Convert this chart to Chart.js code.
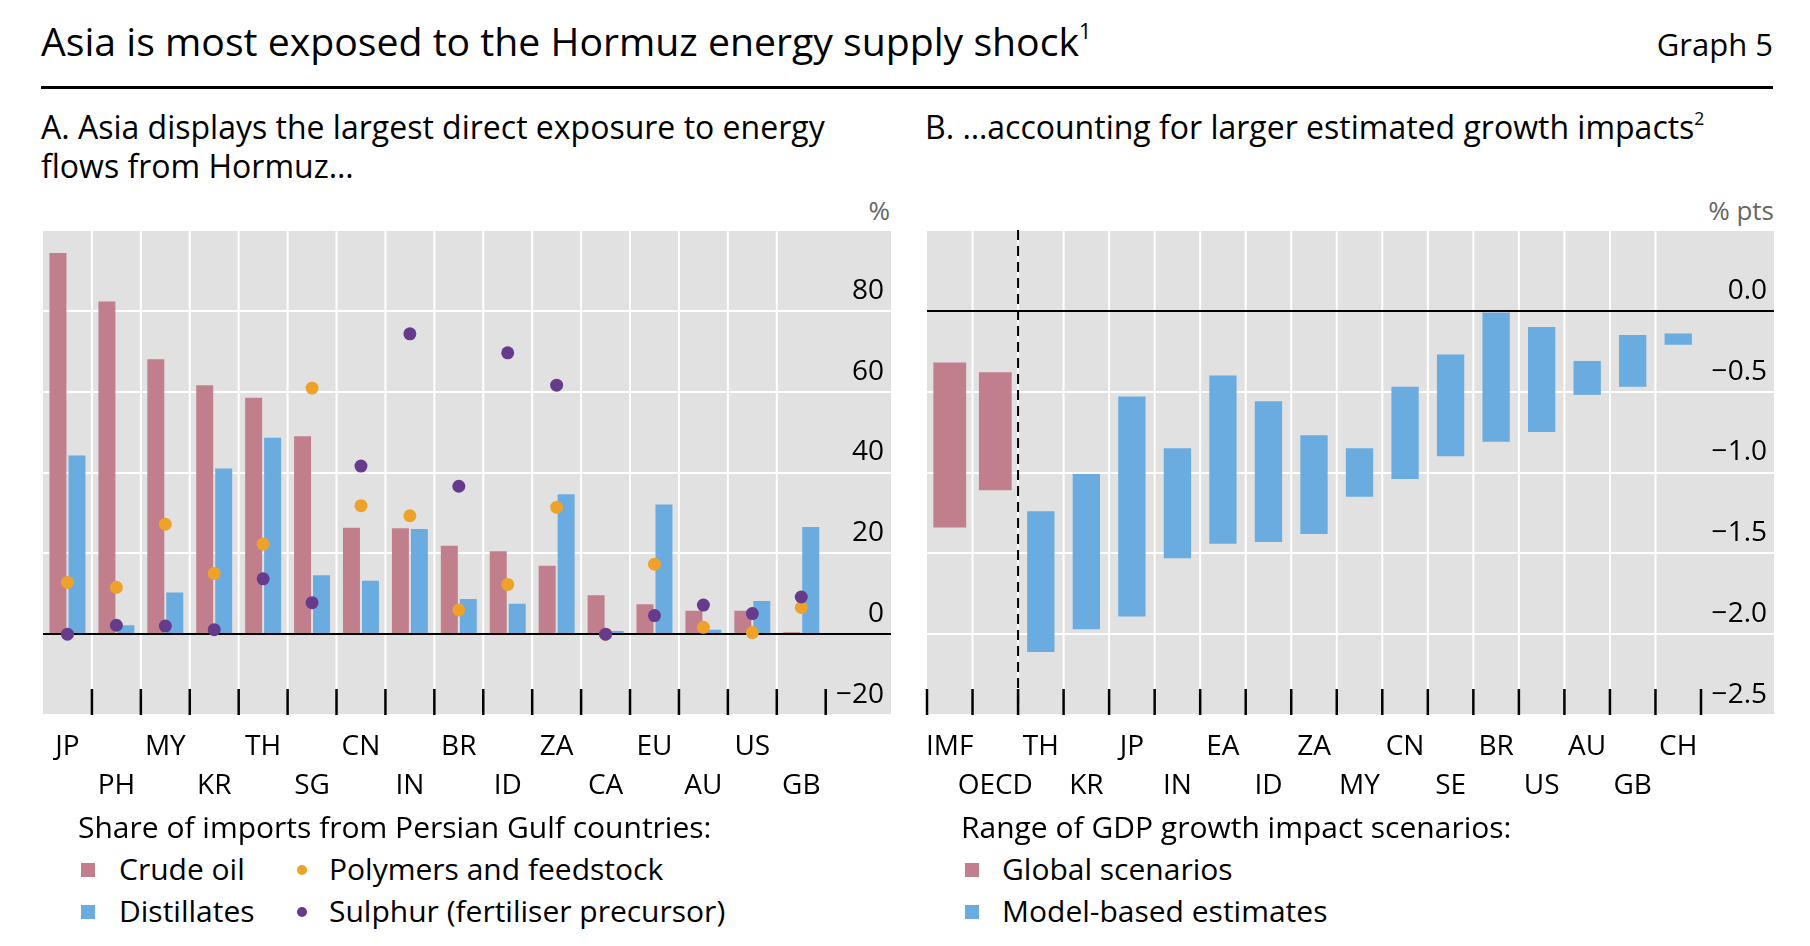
<!doctype html>
<html lang="en">
<head>
<meta charset="utf-8">
<title>Graph 5</title>
<script src="https://cdn.jsdelivr.net/npm/chart.js@4.4.1/dist/chart.umd.min.js"></script>
<style>
  body { margin: 0; background: #fff; color: #000; font-family: "Open Sans", "Noto Sans", sans-serif; }
  #page { position: relative; width: 1810px; height: 946px; overflow: hidden; }
  .txt { position: absolute; white-space: nowrap; }
  sup { font-size: 0.55em; vertical-align: 0.8em; line-height: 0; }
  #title { left: 41px; top: 21px; font-size: 39.2px; line-height: 39px; }
  #graphno { right: 37px; top: 29px; font-size: 31px; line-height: 31px; }
  #rule { position: absolute; left: 41px; top: 86px; width: 1732px; height: 3px; background: #000; }
  .ptitle { top: 107px; font-size: 32px; line-height: 39px; }
  .unit { top: 197px; font-size: 26px; line-height: 26px; color: #666; }
  canvas { position: absolute; top: 220px; }
  .leg { position: absolute; font-size: 30px; line-height: 42px; }
  .leg div { position: absolute; white-space: nowrap; }
</style>
</head>
<body>
<div id="page">
  <div class="txt" id="title">Asia is most exposed to the Hormuz energy supply shock<sup>1</sup></div>
  <div class="txt" id="graphno">Graph 5</div>
  <div id="rule"></div>

  <div class="txt ptitle" style="left:41px">A. Asia displays the largest direct exposure to energy<br>flows from Hormuz…</div>
  <div class="txt ptitle" style="left:925px">B. …accounting for larger estimated growth impacts<sup>2</sup></div>
  <div class="txt unit" style="right:920px">%</div>
  <div class="txt unit" style="right:36px">% pts</div>

  <canvas id="chartA" width="910" height="600" style="left:0"></canvas>
  <canvas id="chartB" width="900" height="600" style="left:910px"></canvas>

  <div class="leg" id="legA"></div>
  <div class="leg" id="legB"></div>
</div>

<script>
// Panel A: share of imports from Persian Gulf countries (%)
var countriesA = ['JP', 'PH', 'MY', 'KR', 'TH', 'SG', 'CN', 'IN', 'BR', 'ID', 'ZA', 'CA', 'EU', 'AU', 'US', 'GB'];
var crudeOil    = [94.3, 82.3, 68.0, 61.6, 58.5, 49.0, 26.3, 26.2, 21.9, 20.5, 16.9, 9.6, 7.4, 5.8, 5.8, 0.5];
var distillates = [44.2, 2.2, 10.3, 41.0, 48.6, 14.6, 13.2, 26.0, 8.7, 7.5, 34.6, 0.8, 32.1, 1.1, 8.2, 26.5];
var polymers    = [12.8, 11.6, 27.2, 15.0, 22.3, 60.9, 31.8, 29.3, 6.0, 12.3, 31.4, 0.0, 17.3, 1.7, 0.4, 6.6];
var sulphur     = [0.0, 2.2, 2.0, 1.1, 13.7, 7.8, 41.6, 74.3, 36.6, 69.6, 61.6, 0.0, 4.6, 7.2, 5.1, 9.2];

// Panel B: range of GDP growth impact (% pts)
var scenarioNames = ['IMF', 'OECD'];
var scenarioLow   = [-1.34, -1.11];
var scenarioHigh  = [-0.32, -0.38];
var modelNames = ['TH', 'KR', 'JP', 'IN', 'EA', 'ID', 'ZA', 'MY', 'CN', 'SE', 'BR', 'US', 'AU', 'GB', 'CH'];
var modelLow   = [-2.11, -1.97, -1.89, -1.53, -1.44, -1.43, -1.38, -1.15, -1.04, -0.90, -0.81, -0.75, -0.52, -0.47, -0.21];
var modelHigh  = [-1.24, -1.01, -0.53, -0.85, -0.40, -0.56, -0.77, -0.85, -0.47, -0.27, -0.01, -0.10, -0.31, -0.15, -0.14];

var PINK = '#c17f8e', BLUE = '#6aace0', ORANGE = '#eea22a', PURPLE = '#673b8c', GREY = '#e1e1e1';

Chart.defaults.font.family = '"Open Sans", "Noto Sans", sans-serif';
Chart.defaults.color = '#000';

function minus(s) { return s.replace('-', '\u2212'); }

// grey panel, white grid, zero line, category ticks, dashed divider
var frame = {
    id: 'frame',
    beforeDraw: function(chart, args, o) {
        var ctx = chart.ctx, a = chart.chartArea, x = chart.scales.x, y = chart.scales.y;
        var right = y.right + o.extra;
        ctx.save();
        ctx.fillStyle = GREY;
        ctx.fillRect(a.left, a.top, right - a.left, a.bottom - a.top);
        ctx.strokeStyle = '#fff';
        ctx.lineWidth = 2;
        ctx.beginPath();
        y.ticks.forEach(function(t) {
            var py = Math.round(y.getPixelForValue(t.value));
            ctx.moveTo(a.left, py);
            ctx.lineTo(right, py);
        });
        var half = (x.getPixelForValue(1) - x.getPixelForValue(0)) / 2;
        for (var i = 1; i < x.ticks.length; i++) {
            var px = x.getPixelForValue(i) - half;
            ctx.moveTo(px, a.top);
            ctx.lineTo(px, a.bottom);
        }
        ctx.stroke();
        ctx.restore();
    },
    afterDatasetDraw: function(chart, args, o) {
        if (args.index !== o.zeroAfter) return;
        var ctx = chart.ctx, a = chart.chartArea, y = chart.scales.y;
        var py = Math.round(y.getPixelForValue(0));
        ctx.save();
        ctx.strokeStyle = '#000';
        ctx.lineWidth = 2;
        ctx.beginPath();
        ctx.moveTo(a.left, py);
        ctx.lineTo(y.right + o.extra, py);
        ctx.stroke();
        ctx.restore();
    },
    afterDatasetsDraw: function(chart, args, o) {
        var ctx = chart.ctx, a = chart.chartArea, x = chart.scales.x;
        var half = (x.getPixelForValue(1) - x.getPixelForValue(0)) / 2;
        ctx.save();
        ctx.strokeStyle = '#000';
        ctx.lineWidth = 2.5;
        ctx.beginPath();
        for (var i = o.firstTick; i <= x.ticks.length; i++) {
            var px = x.getPixelForValue(0) - half + i * 2 * half;
            ctx.moveTo(px, a.bottom - 26);
            ctx.lineTo(px, a.bottom);
        }
        ctx.stroke();
        if (o.dashAt != null) {
            var dx = x.getPixelForValue(0) - half + o.dashAt * 2 * half;
            ctx.lineWidth = 2;
            ctx.setLineDash([10, 6]);
            ctx.beginPath();
            ctx.moveTo(dx, a.top);
            ctx.lineTo(dx, a.bottom);
            ctx.stroke();
        }
        ctx.restore();
    }
};

function xAxis(names) {
    return {
        grid: { display: false },
        border: { display: false },
        afterFit: function(s) { s.height = 105; s.paddingLeft = 0; s.paddingRight = 0; },
        ticks: {
            autoSkip: false, maxRotation: 0, minRotation: 0, padding: 4,
            font: { size: 28, lineHeight: 1.41 },
            callback: function(v, i) { return i % 2 ? ['', names[i]] : names[i]; }
        }
    };
}

function yAxis(min, max, step, width, fmt) {
    return {
        position: 'right', min: min, max: max,
        grid: { display: false, drawTicks: false },
        border: { display: false },
        afterFit: function(s) { s.width = width; s.paddingTop = 0; s.paddingBottom = 0; },
        ticks: {
            stepSize: step, crossAlign: 'far', padding: 4, labelOffset: -20,
            font: { size: 28 },
            callback: function(v) { return v >= max ? '' : fmt(v); }
        }
    };
}

var chartA = new Chart(document.getElementById('chartA'), {
    data: {
        labels: countriesA,
        datasets: [
            { type: 'bar', label: 'Crude oil', data: crudeOil, backgroundColor: PINK, order: 2,
              categoryPercentage: 0.776, barPercentage: 0.895 },
            { type: 'bar', label: 'Distillates', data: distillates, backgroundColor: BLUE, order: 3,
              categoryPercentage: 0.776, barPercentage: 0.895 },
            { type: 'line', label: 'Polymers and feedstock', data: polymers, showLine: false, order: 1,
              pointRadius: 6.5, pointHoverRadius: 6.5, pointBorderWidth: 0,
              pointBackgroundColor: ORANGE, borderColor: ORANGE, backgroundColor: ORANGE },
            { type: 'line', label: 'Sulphur (fertiliser precursor)', data: sulphur, showLine: false, order: 0,
              pointRadius: 6.5, pointHoverRadius: 6.5, pointBorderWidth: 0,
              pointBackgroundColor: PURPLE, borderColor: PURPLE, backgroundColor: PURPLE }
        ]
    },
    options: {
        responsive: false, animation: false,
        layout: { padding: { left: 43, top: 10, right: 26, bottom: 0 } },
        scales: {
            x: xAxis(countriesA),
            y: yAxis(-20, 100, 20, 58.3, function(v) { return minus(String(v)); })
        },
        plugins: {
            legend: { display: false }, tooltip: { enabled: false },
            frame: { zeroAfter: 0, firstTick: 1, dashAt: null, extra: 7 }
        }
    },
    plugins: [frame]
});

var namesB = scenarioNames.concat(modelNames);
var scenarioData = namesB.map(function(n, i) {
    return i < scenarioNames.length ? [scenarioLow[i], scenarioHigh[i]] : null;
});
var modelData = namesB.map(function(n, i) {
    var j = i - scenarioNames.length;
    return j >= 0 ? [modelLow[j], modelHigh[j]] : null;
});

var chartB = new Chart(document.getElementById('chartB'), {
    type: 'bar',
    data: {
        labels: namesB,
        datasets: [
            { label: 'Global scenarios', data: scenarioData, backgroundColor: PINK,
              grouped: false, categoryPercentage: 1, barPercentage: 0.72 },
            { label: 'Model-based estimates', data: modelData, backgroundColor: BLUE,
              grouped: false, categoryPercentage: 1, barPercentage: 0.60 }
        ]
    },
    options: {
        responsive: false, animation: false,
        layout: { padding: { left: 17, top: 10, right: 43, bottom: 0 } },
        scales: {
            x: xAxis(namesB),
            y: yAxis(-2.5, 0.5, 0.5, 66, function(v) { return minus(v.toFixed(1)); })
        },
        plugins: {
            legend: { display: false }, tooltip: { enabled: false },
            frame: { zeroAfter: 0, firstTick: 0, dashAt: 2, extra: 7 }
        }
    },
    plugins: [frame]
});

// html legends built from the datasets
function buildLegend(chart, id, title, left, slots) {
    var box = document.getElementById(id);
    box.style.left = left + 'px';
    box.style.top = '806px';
    var head = document.createElement('div');
    head.textContent = title;
    head.style.left = '0px';
    head.style.top = '0px';
    box.appendChild(head);
    chart.data.datasets.forEach(function(ds, i) {
        var s = slots[i];
        var top = 42 * (s.row + 1);
        var m = document.createElement('div');
        var dot = ds.type === 'line';
        var size = dot ? 10 : 14;
        m.style.left = (s.mx - left - size / 2) + 'px';
        m.style.top = (top + 22 - size / 2) + 'px';
        m.style.width = size + 'px';
        m.style.height = size + 'px';
        m.style.background = dot ? ds.pointBackgroundColor : ds.backgroundColor;
        if (dot) m.style.borderRadius = '50%';
        box.appendChild(m);
        var t = document.createElement('div');
        t.textContent = ds.label;
        t.style.left = (s.tx - left) + 'px';
        t.style.top = top + 'px';
        box.appendChild(t);
    });
}

buildLegend(chartA, 'legA', 'Share of imports from Persian Gulf countries:', 78, [
    { mx: 88, tx: 119, row: 0 }, { mx: 88, tx: 119, row: 1 },
    { mx: 302, tx: 329, row: 0 }, { mx: 302, tx: 329, row: 1 }
]);
buildLegend(chartB, 'legB', 'Range of GDP growth impact scenarios:', 961, [
    { mx: 972, tx: 1002, row: 0 }, { mx: 972, tx: 1002, row: 1 }
]);
</script>
</body>
</html>
